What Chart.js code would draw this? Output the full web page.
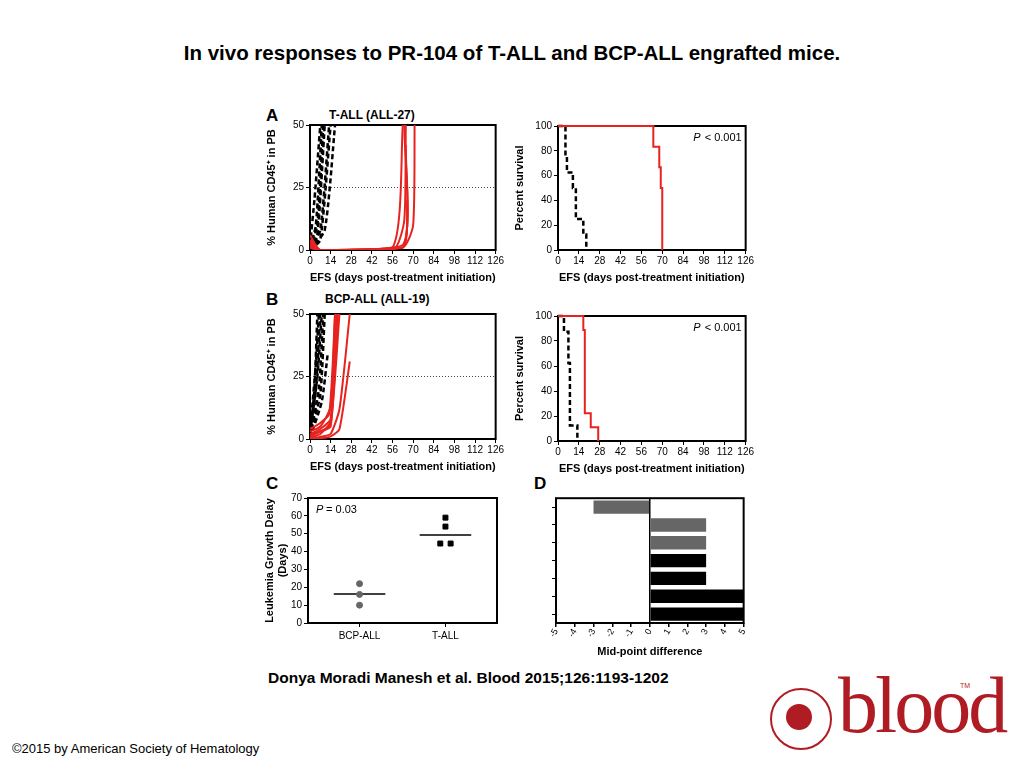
<!DOCTYPE html>
<html><head><meta charset="utf-8">
<script src="https://cdn.jsdelivr.net/npm/chart.js@4"></script>
<style>
body{margin:0;width:1024px;height:768px;background:#fff;position:relative;font-family:"Liberation Sans",Arial,sans-serif;overflow:hidden}
canvas{position:absolute}
.t{position:absolute;white-space:nowrap;color:#000}
</style></head><body>
<div class="t" style="left:0;width:1024px;text-align:center;top:41px;font-size:20.5px;font-weight:bold">In vivo responses to PR-104 of T-ALL and BCP-ALL engrafted mice.</div>
<div class="t" style="left:266px;top:106px;font-size:17px;font-weight:bold">A</div>
<div class="t" style="left:329px;top:108px;font-size:12px;font-weight:bold">T-ALL (ALL-27)</div>
<div class="t" style="left:266px;top:290px;font-size:17px;font-weight:bold">B</div>
<div class="t" style="left:325px;top:292px;font-size:12px;font-weight:bold">BCP-ALL (ALL-19)</div>
<div class="t" style="left:266px;top:474px;font-size:17px;font-weight:bold">C</div>
<div class="t" style="left:534px;top:474px;font-size:17px;font-weight:bold">D</div>
<div class="t" style="left:268px;top:669px;font-size:15.5px;font-weight:bold">Donya Moradi Manesh et al. Blood 2015;126:1193-1202</div>
<div class="t" style="left:12px;top:741px;font-size:13px">©2015 by American Society of Hematology</div>
<div class="t" style="left:838px;top:660px;font-size:80px;font-family:'Liberation Serif',serif;color:#b01c24;letter-spacing:-3px">blood</div>
<div class="t" style="left:960px;top:682px;font-size:7px;color:#b01c24">TM</div>
<div style="position:absolute;left:770px;top:688px;width:58px;height:58px;border-radius:50%;border:2px solid #b01c24"></div>
<div style="position:absolute;left:786px;top:704px;width:26px;height:26px;border-radius:50%;background:#b01c24"></div>
<canvas id="a1"></canvas><canvas id="a2"></canvas><canvas id="b1"></canvas><canvas id="b2"></canvas><canvas id="c1"></canvas><canvas id="d1"></canvas>
<script>
// ---- data ----
const efsTicks = [0,14,28,42,56,70,84,98,112,126];
// Panel A left: T-ALL, % human CD45+ per mouse
const aCtrlDays = [[0,3,7],[0,4,8],[0,5,9],[0,5,10],[0,7,13],[0,7,14],[0,10,17]];
const aCtrlVals = [[2,20,50],[1,10,50],[0.5,10,50],[0.3,6,50],[0.2,8,50],[0.1,4,50],[0,8,50]];
const aTrtDays = [[0,7,56,63],[0,7,63,64],[0,7,63,65],[0,7,63,66],[0,7,63,70,71],[0,7,57,64,65]];
const aTrtVals = [[6,0,1,50],[4,0,1,50],[3,0,2,42],[2,0,1,20],[1,0,1,10,50],[1,0,0.5,12,50]];
// Panel A right: survival
const aSurvCtrlDays = [0,5,6,10,12,17,19];
const aSurvCtrlVals = [100,75,62.5,50,25,12.5,0];
const aSurvTrtDays = [0,64,68,69,70];
const aSurvTrtVals = [100,83.3,66.7,50,0];
// Panel B left: BCP-ALL
const bCtrlDays = [[0,3,5],[0,4,7],[0,5,8],[0,6,9],[0,7,10],[0,8,12],[0,4,6]];
const bCtrlVals = [[1,20,50],[0.5,20,50],[2,25,50],[1,20,50],[0.5,18,50],[0.3,15,34],[3,30,50]];
const bTrtDays = [[0,7,14,17],[0,7,14,18],[0,7,14,18],[0,7,14,19],[0,7,14,20],[0,10,14,20,27],[0,8,14,20,27],[0,6,13,17]];
const bTrtVals = [[3,5,13,50],[2,4,8,50],[1,3,5,40],[0.5,2,7,50],[2,3,6,50],[0,0.5,1,4,31],[0,1,2,12,50],[4,6,10,50]];
// Panel B right: survival
const bSurvCtrlDays = [0,4,7,8,13];
const bSurvCtrlVals = [100,87.5,62.5,12.5,0];
const bSurvTrtDays = [0,17,18,22,27];
const bSurvTrtVals = [100,88.9,22.2,11.1,0];
// Panel C
const cGroups = ['BCP-ALL','T-ALL'];
const cBcp = [22,16,10];
const cTall = [59,54,44.5,44.5];
const cTallOffset = [0,0,-0.06,0.06];
const cMedians = [16.2,49.3];
// Panel D
const dValues = [-3,3,3,3,3,5,5];
const dColors = ['#666','#666','#666','#000','#000','#000','#000'];

// ---- helpers ----
const F = {family:"'Liberation Sans', Arial, sans-serif"};
const boxPlugin = {id:'box',beforeDatasetsDraw(ch){const a=ch.chartArea,c=ch.ctx;c.save();c.strokeStyle='#000';c.lineWidth=2;c.strokeRect(a.left,a.top,a.right-a.left,a.bottom-a.top);c.restore();}};
function place(id,L,T,W,H,xh){const cv=document.getElementById(id);const w=W+45+7,h=H+10+xh;cv.width=w;cv.height=h;cv.style.left=(L-45)+'px';cv.style.top=(T-10)+'px';cv.style.width=w+'px';cv.style.height=h+'px';return cv;}
function pts(d,v){return d.map((x,i)=>({x:x,y:v[i]}));}
function yAxis(min,max,step,title){return {min,max,afterFit(s){s.width=45;},border:{display:false},grid:{drawOnChartArea:false,tickLength:4,color:'#000'},
 ticks:{stepSize:step,color:'#000',font:{...F,size:10},padding:2},title:{display:true,text:title,color:'#000',font:{...F,size:11,weight:'bold'},padding:0}};}
function xEfs(){return {type:'linear',min:0,max:126,afterFit(s){s.height=35;},border:{display:false},grid:{drawOnChartArea:false,tickLength:4,color:'#000'},
 afterBuildTicks(s){s.ticks=efsTicks.map(v=>({value:v}));},ticks:{color:'#000',font:{...F,size:10},padding:1,maxRotation:0},
 title:{display:true,text:'EFS (days post-treatment initiation)',color:'#000',font:{...F,size:11,weight:'bold'},padding:0}};}
const base = {responsive:false,animation:false,layout:{padding:{top:10,right:7}},plugins:{legend:{display:false},tooltip:{enabled:false}}};
function spaghetti(id,L,T,cd,cv,td,tv){
 place(id,L,T,188,125,35);
 const ds=[{data:[{x:0,y:25},{x:126,y:25}],borderColor:'#444',borderWidth:1,borderDash:[1,2],pointRadius:0}];
 td.forEach((d,i)=>ds.push({data:pts(d,tv[i]),borderColor:'#e8231f',borderWidth:2,pointRadius:0,tension:0.2}));
 cd.forEach((d,i)=>ds.push({data:pts(d,cv[i]),borderColor:'#000',borderWidth:2.5,borderDash:[5,3],pointRadius:0,tension:0.2}));
 new Chart(document.getElementById(id),{type:'line',data:{datasets:ds},plugins:[boxPlugin],options:{...base,clip:true,
  scales:{x:xEfs(),y:{...yAxis(0,50,25,'% Human CD45⁺ in PB')}}}});
}
function survival(id,L,T,H,cd,cv,td,tv){
 place(id,L,T,190,H,35);
 const pPlug={id:'p',afterDraw(ch){const c=ch.ctx,a=ch.chartArea;c.save();c.font="11px 'Liberation Sans'";c.fillStyle='#000';c.textAlign='right';c.fillText('< 0.001',a.right-4,a.top+15);c.font="italic 11px 'Liberation Sans'";c.fillText('P',a.right-45,a.top+15);c.restore();}};
 new Chart(document.getElementById(id),{type:'line',data:{datasets:[
  {data:pts(td,tv),stepped:'before',borderColor:'#e8231f',borderWidth:2,pointRadius:0},
  {data:pts(cd,cv),stepped:'before',borderColor:'#000',borderWidth:2.5,borderDash:[5,3],pointRadius:0}]},
  plugins:[boxPlugin,pPlug],options:{...base,clip:3,scales:{x:xEfs(),y:yAxis(0,100,20,'Percent survival')}}});
}
spaghetti('a1',310,125,aCtrlDays,aCtrlVals,aTrtDays,aTrtVals);
survival('a2',558,126,124,aSurvCtrlDays,aSurvCtrlVals,aSurvTrtDays,aSurvTrtVals);
spaghetti('b1',310,314,bCtrlDays,bCtrlVals,bTrtDays,bTrtVals);
survival('b2',558,316,125,bSurvCtrlDays,bSurvCtrlVals,bSurvTrtDays,bSurvTrtVals);

// Panel C
place('c1',308,498,189,125,30);
const cP={id:'cp',afterDraw(ch){const c=ch.ctx,a=ch.chartArea;c.save();c.font="italic 11px 'Liberation Sans'";c.fillStyle='#000';c.fillText('P',a.left+8,a.top+15);c.font="11px 'Liberation Sans'";c.fillText(' = 0.03',a.left+15,a.top+15);c.restore();}};
new Chart(document.getElementById('c1'),{type:'scatter',data:{datasets:[
 {data:cBcp.map(v=>({x:0,y:v})),pointStyle:'circle',pointRadius:3,backgroundColor:'#666',borderColor:'#666'},
 {data:cTall.map((v,i)=>({x:1+cTallOffset[i],y:v})),pointStyle:'rect',pointRadius:3.5,backgroundColor:'#000',borderColor:'#000'},
 {type:'line',data:[{x:-0.3,y:cMedians[0]},{x:0.3,y:cMedians[0]}],borderColor:'#000',borderWidth:1.5,pointRadius:0},
 {type:'line',data:[{x:0.7,y:cMedians[1]},{x:1.3,y:cMedians[1]}],borderColor:'#000',borderWidth:1.5,pointRadius:0}]},
 plugins:[boxPlugin,cP],options:{...base,scales:{
  x:{type:'linear',min:-0.6,max:1.6,afterFit(s){s.height=30;},border:{display:false},grid:{drawOnChartArea:false,tickLength:4,color:'#000'},
   afterBuildTicks(s){s.ticks=[{value:0},{value:1}];},ticks:{color:'#000',font:{...F,size:10},callback:v=>cGroups[v]}},
  y:yAxis(0,70,10,['Leukemia Growth Delay','(Days)'])}}});

// Panel D
place('d1',556,498,190,125,36);
new Chart(document.getElementById('d1'),{type:'bar',data:{labels:dValues.map((v,i)=>'r'+i),datasets:[
 {data:dValues,backgroundColor:dColors,borderWidth:0,barPercentage:0.75,categoryPercentage:1}]},
 plugins:[boxPlugin],options:{...base,indexAxis:'y',scales:{
  x:{min:-5,max:5,afterFit(s){s.height=36;},border:{display:false},
   grid:{drawOnChartArea:true,tickLength:4,tickColor:'#000',lineWidth:1.5,color:c=>c.tick&&c.tick.value===0?'#000':'rgba(0,0,0,0)'},
   ticks:{stepSize:1,color:'#000',font:{...F,size:9},minRotation:60,maxRotation:60,padding:0},
   title:{display:true,text:'Mid-point difference',color:'#000',font:{...F,size:11,weight:'bold'},padding:0}},
  y:{afterFit(s){s.width=45;},border:{display:false},grid:{drawOnChartArea:false,tickLength:4,color:'#000',offset:false},
   ticks:{color:'#000',callback:()=>''}}}}});
</script></body></html>
